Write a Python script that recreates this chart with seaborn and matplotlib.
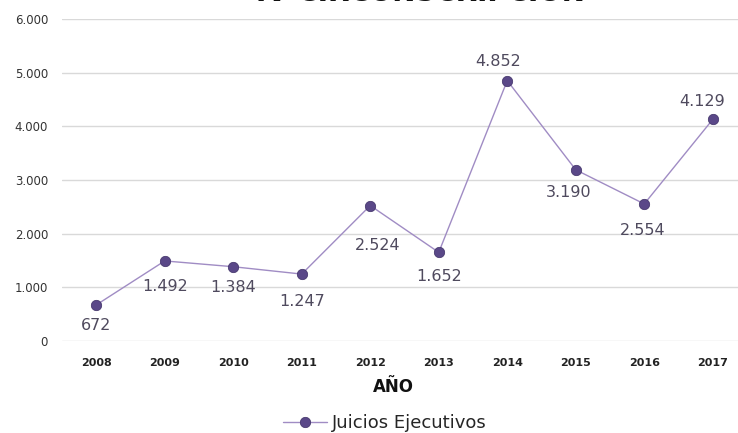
import pandas as pd
import seaborn as sns
import matplotlib.pyplot as plt
from matplotlib.ticker import FuncFormatter

# Data
years = ['2008', '2009', '2010', '2011', '2012', '2013', '2014', '2015', '2016', '2017']
juicios = [672, 1492, 1384, 1247, 2524, 1652, 4852, 3190, 2554, 4129]

# label nudges in pixels (dx right, dy down), as placed in the original chart
label_offsets = [(0, 21), (0, 26), (0, 21), (0, 27), (7, 40),
                 (0, 24), (-9, -19), (-7, 23), (-2, 27), (-11, -18)]

df = pd.DataFrame({'AÑO': years, 'Juicios Ejecutivos': juicios})
df['x'] = range(len(years))

sns.set_style('white')
plt.rcParams['font.family'] = ['DejaVu Sans']

fig = plt.figure(figsize=(7.38, 4.33), dpi=100)
ax = fig.add_axes([62 / 738, 1 - 341 / 433, 685 / 738, 322 / 433])

line_col = '#a08cc4'
marker_col = '#5a4888'
sns.lineplot(data=df, x='x', y='Juicios Ejecutivos', ax=ax, color=line_col,
             linewidth=1, marker='o', markersize=7.5, markerfacecolor=marker_col,
             markeredgecolor='#3e3066', markeredgewidth=0.5, label='Juicios Ejecutivos',
             legend=False)

def fmt(v):
    return f'{v:,.0f}'.replace(',', '.')

for i, v in enumerate(juicios):
    dx, dy = label_offsets[i]
    ax.annotate(fmt(v), (i, v), xytext=(dx, -dy), textcoords='offset pixels',
                ha='center', va='center', fontsize=11.5, color='#4f4a5e')

ax.set_xlim(-0.5, len(years) - 0.5)
ax.set_ylim(0, 6000)
ax.set_yticks(range(0, 6001, 1000))
ax.yaxis.set_major_formatter(FuncFormatter(lambda v, p: fmt(v)))
ax.set_xticks(df['x'])
ax.set_xticklabels(years, fontweight='bold', fontsize=8, color='#222222')
ax.tick_params(axis='y', labelsize=8.5, colors='#333333', length=0, pad=10)
ax.tick_params(axis='x', length=0, pad=12)
ax.grid(axis='y', color='#d9d9d9', linewidth=1)
ax.set_axisbelow(True)
for s in ax.spines.values():
    s.set_visible(False)

ax.set_xlabel('AÑO', fontweight='bold', fontsize=12, color='#111111')
ax.xaxis.set_label_coords((393 - 62) / 685, -(387 - 341) / 322)
ax.xaxis.label.set_va('center')
ax.set_ylabel('')

# title sits mostly above the top edge, as in the original
fig.text(420 / 738, 1 - 1 / 433, 'IV CIRCUNSCRIPCIÓN', ha='center', va='baseline',
         fontsize=20, fontweight='bold', color='#111111')

handles, labels = ax.get_legend_handles_labels()
fig.legend(handles, labels, loc='center', bbox_to_anchor=(385 / 738, 1 - 423 / 433),
           frameon=False, fontsize=13, handlelength=2.4, handletextpad=0.3)

fig.savefig('out.png', dpi=100)
